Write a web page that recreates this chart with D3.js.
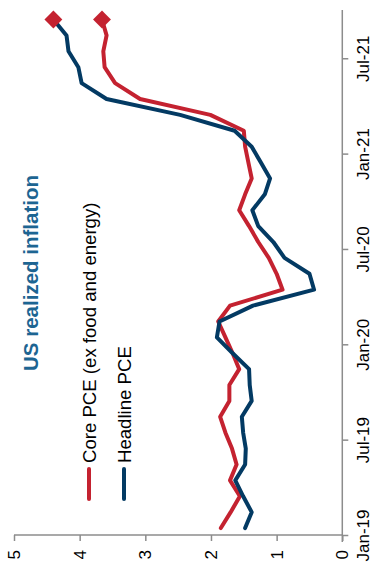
<!DOCTYPE html>
<html>
<head>
<meta charset="utf-8">
<script src="https://cdn.jsdelivr.net/npm/d3@7"></script>
<style>
  html, body { margin: 0; padding: 0; background: #fff; }
  svg { display: block; font-family: "Liberation Sans", Arial, sans-serif; }
</style>
</head>
<body>
<svg id="chart" width="379" height="573"></svg>
<script>
// Monthly data, Jan-19 .. Sep-21 (year-over-year %)
const months = ["Jan-19","Feb-19","Mar-19","Apr-19","May-19","Jun-19","Jul-19","Aug-19","Sep-19","Oct-19","Nov-19","Dec-19",
                "Jan-20","Feb-20","Mar-20","Apr-20","May-20","Jun-20","Jul-20","Aug-20","Sep-20","Oct-20","Nov-20","Dec-20",
                "Jan-21","Feb-21","Mar-21","Apr-21","May-21","Jun-21","Jul-21","Aug-21","Sep-21"];
const corePCE = [1.85,1.70,1.56,1.71,1.61,1.68,1.78,1.86,1.72,1.72,1.57,1.67,
                 1.78,1.89,1.71,0.91,1.00,1.12,1.28,1.42,1.57,1.48,1.38,1.43,
                 1.48,1.50,2.01,3.08,3.46,3.62,3.64,3.59,3.66];
const headlinePCE = [1.48,1.38,1.51,1.63,1.48,1.47,1.51,1.53,1.38,1.41,1.42,1.67,
                     1.91,1.87,1.36,0.43,0.50,0.88,1.05,1.28,1.37,1.18,1.10,1.24,
                     1.38,1.64,2.47,3.59,3.97,4.02,4.17,4.20,4.40];
const dateTickIdx = [0,6,12,18,24,30];
const dateTickLabels = ["Jan-19","Jul-19","Jan-20","Jul-20","Jan-21","Jul-21"];
const valueTicks = [0,1,2,3,4,5];
const seriesNames = ["Core PCE (ex food and energy)","Headline PCE"];
const title = "US realized inflation";

const RED = "#c42230", BLUE = "#033a63", AXIS = "#8c8c8c", TITLE = "#1d6592";

// Chart is drawn in an unrotated 573x379 frame, then rotated -90deg into the 379x573 page
const W = 573, H = 379;
const svg = d3.select("#chart");
const g = svg.append("g").attr("transform", `translate(0,${W}) rotate(-90)`);

const x = d3.scaleLinear().domain([0, 33.1]).range([37, 563]);
const y = d3.scaleLinear().domain([0, 5]).range([342.3, 14]);

// value axis (left)
const yAxis = g.append("g").attr("transform", "translate(38,0)")
  .call(d3.axisLeft(y).tickValues(valueTicks).tickSize(6).tickPadding(9).tickFormat(d3.format("d")));
yAxis.select(".domain").attr("stroke", AXIS).attr("stroke-width", 1.5).attr("d", `M0,${y(5)}V${y(0)}`);
yAxis.selectAll(".tick line").attr("stroke", AXIS).attr("stroke-width", 1.5);
yAxis.selectAll(".tick text").attr("fill", "#000").style("font-size", "17px");

// date axis (bottom)
const xAxis = g.append("g").attr("transform", `translate(0,${y(0)})`)
  .call(d3.axisBottom(x).tickValues(dateTickIdx).tickSize(6).tickPadding(9)
        .tickFormat((d, i) => dateTickLabels[i]));
xAxis.select(".domain").attr("stroke", AXIS).attr("stroke-width", 1.5).attr("d", `M${x(0) - 6},0H${x(33.1)}`);
xAxis.selectAll(".tick line").attr("stroke", AXIS).attr("stroke-width", 1.5);
xAxis.selectAll(".tick text").attr("fill", "#000").style("font-size", "17px");

// lines
const line = d3.line().x((d, i) => x(i + 0.5)).y(d => y(d));
[[corePCE, RED], [headlinePCE, BLUE]].forEach(([vals, col]) => {
  g.append("path").datum(vals).attr("d", line)
    .attr("fill", "none").attr("stroke", col).attr("stroke-width", 4)
    .attr("stroke-linejoin", "round").attr("stroke-linecap", "round");
});
// diamond markers at last point (both red)
[corePCE, headlinePCE].forEach(vals => {
  const n = vals.length - 1;
  g.append("path")
    .attr("d", d3.symbol(d3.symbolSquare, 160)())
    .attr("transform", `translate(${x(n + 0.5)},${y(vals[n])}) rotate(45)`)
    .attr("fill", RED);
});

// title
g.append("text").attr("x", 300).attr("y", 38).attr("text-anchor", "middle")
  .attr("fill", TITLE).style("font-size", "20.5px").style("font-weight", "bold").text(title);

// legend
const legY = [89, 124];
[RED, BLUE].forEach((col, i) => {
  g.append("line").attr("x1", 74).attr("x2", 104).attr("y1", legY[i]).attr("y2", legY[i])
    .attr("stroke", col).attr("stroke-width", 4).attr("stroke-linecap", "round");
  g.append("text").attr("x", 110).attr("y", legY[i] + 7).attr("fill", "#000")
    .style("font-size", "18.6px").text(seriesNames[i]);
});
</script>
</body>
</html>
